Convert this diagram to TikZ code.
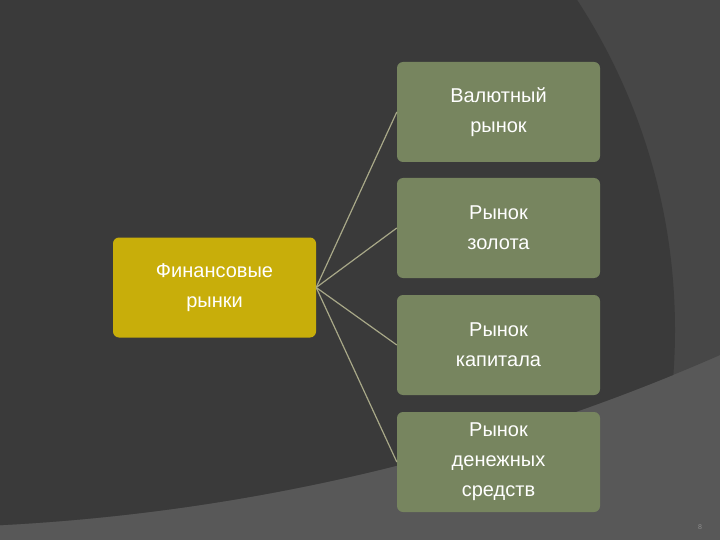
\documentclass[tikz,border=0pt]{standalone}
\usepackage{fontspec}
\setmainfont{Liberation Sans}
\begin{document}
\begin{tikzpicture}[x=1pt,y=-1pt,
  sub/.style={fill=boxgreen,rounded corners=6pt,minimum width=203pt,minimum height=100pt,text=white,align=center,font=\fontsize{20}{30}\selectfont},
  link/.style={draw=linecol,line width=1.2pt}]
\definecolor{boxgreen}{HTML}{77855F}
\definecolor{boxyellow}{HTML}{C8AE0A}
\definecolor{linecol}{HTML}{A8A888}
\fill[color={rgb,255:red,88;green,88;blue,88}] (0,0) rectangle (720,540);
\useasboundingbox (0,0) rectangle (720,540);
\begin{scope}
\clip (0,0) rectangle (720,540);
\fill[color={rgb,255:red,71;green,71;blue,71}] (-109,-1539) circle (2067);
\clip (-109,-1539) circle (2067);
\fill[color={rgb,255:red,58;green,58;blue,58}] (70,330) circle (605);
\end{scope}
\node[sub,fill=boxyellow] (fin) at (214.5,287.5) {Финансовые\\рынки};
\node[sub] (a) at (498.5,112) {Валютный\\рынок};
\node[sub] (b) at (498.5,228) {Рынок\\золота};
\node[sub] (c) at (498.5,345) {Рынок\\капитала};
\node[sub] (d) at (498.5,462) {Рынок\\денежных\\средств};
\foreach \t in {a,b,c,d} \draw[link] (fin.east) -- (\t.west);
\node[text={rgb,255:red,140;green,140;blue,140},font=\fontsize{7}{8}\selectfont] (pg) at (700,527) {8};
\end{tikzpicture}
\end{document}
